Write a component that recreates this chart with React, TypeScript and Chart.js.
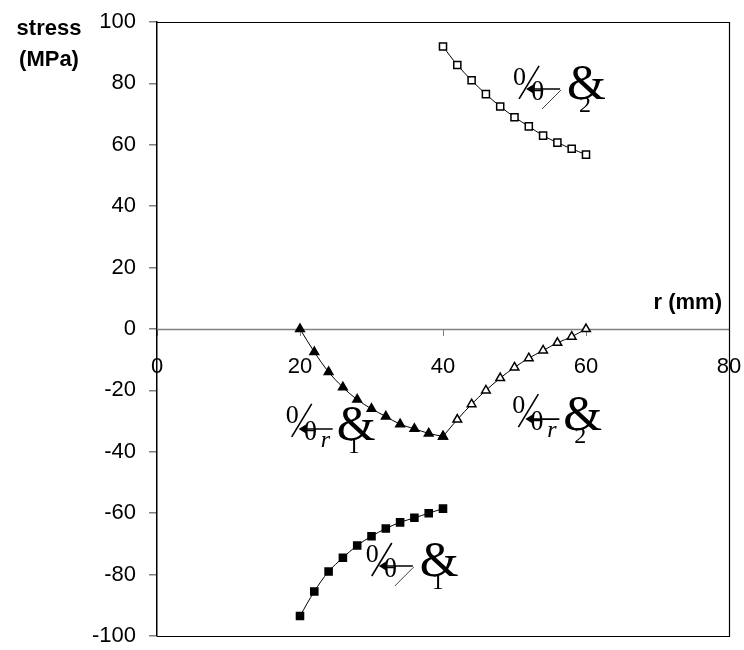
import React, { useEffect, useRef } from "react";
import { Chart, registerables } from "chart.js";

Chart.register(...registerables);

// ---- data ----
const rInner = [20, 22, 24, 26, 28, 30, 32, 34, 36, 38, 40];
const rOuter = [40, 42, 44, 46, 48, 50, 52, 54, 56, 58, 60];
const sigmaTheta1 = [-93.5, -85.5, -79, -74.5, -70.5, -67.5, -65, -63, -61.5, -60, -58.5];
const sigmaR1 = [0, -7.5, -14, -19, -23, -26, -28.5, -31, -32.5, -34, -35];
const sigmaR2 = [-35, -29.5, -24.5, -20, -16, -12.5, -9.5, -7, -4.5, -2.5, 0];
const sigmaTheta2 = [92, 86, 81, 76.5, 72.5, 69, 66, 63, 60.7, 58.7, 56.8];
const xTickValues = [0, 20, 40, 60, 80];
const yTickValues = [-100, -80, -60, -40, -20, 0, 20, 40, 60, 80, 100];
const yTitleLines = ["stress", "(MPa)"];
const xTitle = "r (mm)";

// curve labels (anchored in data coordinates)
const labelKinds = ["θ", "r", "r", "θ"];
const labelDigits = ["2", "1", "2", "1"];
const labelX = [49.8, 18.0, 49.7, 29.2];
const labelY = [79.5, -30.6, -27.4, -75.9];

const toPts = (xs: number[], ys: number[]) => xs.map((x, i) => ({ x, y: ys[i] }));

const SERIF = '"Liberation Serif", "Times New Roman", serif';
const SANS = '"Liberation Sans", Arial, sans-serif';

function drawCurveLabel(ctx: CanvasRenderingContext2D, px: number, py: number, kind: string, digit: string) {
  ctx.save();
  ctx.fillStyle = "#000";
  ctx.strokeStyle = "#000";
  ctx.textAlign = "left";
  ctx.textBaseline = "alphabetic";
  const isR = kind === "r";
  ctx.font = `26px ${SERIF}`;
  ctx.fillText("0", px, py);
  ctx.lineWidth = 1.6;
  ctx.beginPath();
  ctx.moveTo(px + 6, py + 14);
  ctx.lineTo(px + 26, py - 19);
  ctx.stroke();
  const ay = py + (isR ? 6 : 4);
  ctx.beginPath();
  ctx.moveTo(px + 15, ay);
  ctx.lineTo(px + 47, ay);
  ctx.stroke();
  ctx.beginPath();
  ctx.moveTo(px + 13, ay);
  ctx.lineTo(px + 21, ay - 5);
  ctx.lineTo(px + 20, ay);
  ctx.lineTo(px + 21, ay + 5);
  ctx.closePath();
  ctx.fill();
  ctx.font = `28px ${SERIF}`;
  ctx.fillText("θ", px + 18, py + (isR ? 17 : 15));
  if (isR) {
    ctx.font = `italic 24px ${SERIF}`;
    ctx.fillText("r", px + 35, py + 24);
  } else {
    ctx.lineWidth = 1;
    ctx.strokeStyle = "#444";
    ctx.beginPath();
    ctx.moveTo(px + 29, py + 24);
    ctx.lineTo(px + 48, py + 5);
    ctx.stroke();
  }
  ctx.font = `50px ${SERIF}`;
  ctx.fillText("&", px + (isR ? 51 : 54), py + (isR ? 17 : 14));
  ctx.font = `24px ${SERIF}`;
  ctx.fillText(digit, px + (isR ? 62 : 66), py + (isR ? 30 : 27));
  ctx.restore();
}

const decorPlugin = {
  id: "decor",
  beforeDatasetsDraw(chart: any) {
    const { ctx, chartArea, scales } = chart;
    const y0 = Math.round(scales.y.getPixelForValue(0)) + 0.5;
    ctx.save();
    ctx.strokeStyle = "#808080";
    ctx.lineWidth = 1.5;
    ctx.beginPath();
    ctx.moveTo(chartArea.left, y0);
    ctx.lineTo(chartArea.right, y0);
    ctx.stroke();
    ctx.restore();
  },
  afterDatasetsDraw(chart: any) {
    const { ctx, chartArea, scales } = chart;
    const xs = scales.x;
    const ys = scales.y;
    ctx.save();
    ctx.strokeStyle = "#000";
    ctx.lineWidth = 1.2;
    ctx.beginPath();
    ctx.moveTo(chartArea.left, chartArea.top + 0.5);
    ctx.lineTo(chartArea.right + 0.5, chartArea.top + 0.5);
    ctx.lineTo(chartArea.right + 0.5, chartArea.bottom + 0.5);
    ctx.lineTo(chartArea.left, chartArea.bottom + 0.5);
    ctx.stroke();
    ctx.restore();
    for (let i = 0; i < labelKinds.length; i++) {
      drawCurveLabel(ctx, xs.getPixelForValue(labelX[i]), ys.getPixelForValue(labelY[i]), labelKinds[i], labelDigits[i]);
    }
  },
  afterDraw(chart: any) {
    const { ctx } = chart;
    ctx.save();
    ctx.fillStyle = "#000";
    ctx.font = `bold 22px ${SANS}`;
    ctx.textAlign = "center";
    ctx.textBaseline = "middle";
    ctx.fillText(yTitleLines[0], 49, 29);
    ctx.fillText(yTitleLines[1], 49, 60);
    ctx.textAlign = "right";
    ctx.fillText(xTitle, 722, 303);
    ctx.restore();
  },
};

export default function App() {
  const ref = useRef<HTMLCanvasElement | null>(null);
  useEffect(() => {
    if (!ref.current) return;
    Chart.defaults.font.family = SANS;
    const line = {
      borderColor: "#000",
      borderWidth: 1,
      pointBorderColor: "#000",
      pointBorderWidth: 1.5,
      tension: 0.35,
      showLine: true,
    };
    const chart = new Chart(ref.current, {
      type: "scatter",
      data: {
        datasets: [
          { ...line, label: "σr1", data: toPts(rInner, sigmaR1), pointStyle: "triangle", pointRadius: 5, pointBackgroundColor: "#000" },
          { ...line, label: "σθ1", data: toPts(rInner, sigmaTheta1), pointStyle: "rect", pointRadius: 5, pointBackgroundColor: "#000" },
          { ...line, label: "σr2", data: toPts(rOuter, sigmaR2), pointStyle: "triangle", pointRadius: 5, pointBackgroundColor: "#fff" },
          { ...line, label: "σθ2", data: toPts(rOuter, sigmaTheta2), pointStyle: "rect", pointRadius: 5, pointBackgroundColor: "#fff" },
        ] as any,
      },
      options: {
        animation: false,
        responsive: false,
        layout: { padding: { left: 0, top: 22, right: 15, bottom: 14 } },
        plugins: { legend: { display: false }, tooltip: { enabled: false } },
        scales: {
          x: {
            type: "linear",
            position: { y: 0 } as any,
            min: 0,
            max: 80,
            afterBuildTicks: (s: any) => { s.ticks = xTickValues.map((v) => ({ value: v })); },
            afterFit: (s: any) => { s.paddingLeft = 0; s.paddingRight = 0; s.paddingTop = 0; s.paddingBottom = 0; },
            ticks: { color: "#000", font: { size: 22 }, padding: 18, maxRotation: 0 },
            grid: { drawOnChartArea: false, drawTicks: true, tickLength: 7, color: "#808080", lineWidth: 1 },
            border: { display: false },
          },
          y: {
            type: "linear",
            position: "left",
            min: -100,
            max: 100,
            afterBuildTicks: (s: any) => { s.ticks = yTickValues.map((v) => ({ value: v })); },
            afterFit: (s: any) => { s.width = 157; s.paddingTop = 0; s.paddingBottom = 0; s.paddingLeft = 0; s.paddingRight = 0; },
            ticks: { color: "#000", font: { size: 22 }, padding: 13 },
            grid: { drawOnChartArea: false, drawTicks: true, tickLength: 8, color: "#808080", lineWidth: 1.5 },
            border: { color: "#000", width: 1.5 },
          },
        },
      },
      plugins: [decorPlugin],
    } as any);
    return () => chart.destroy();
  }, []);
  return (
    <div style={{ position: "fixed", left: 0, top: 0, width: 744, height: 650, background: "#fff" }}>
      <canvas ref={ref} width={744} height={650} style={{ display: "block" }} />
    </div>
  );
}
